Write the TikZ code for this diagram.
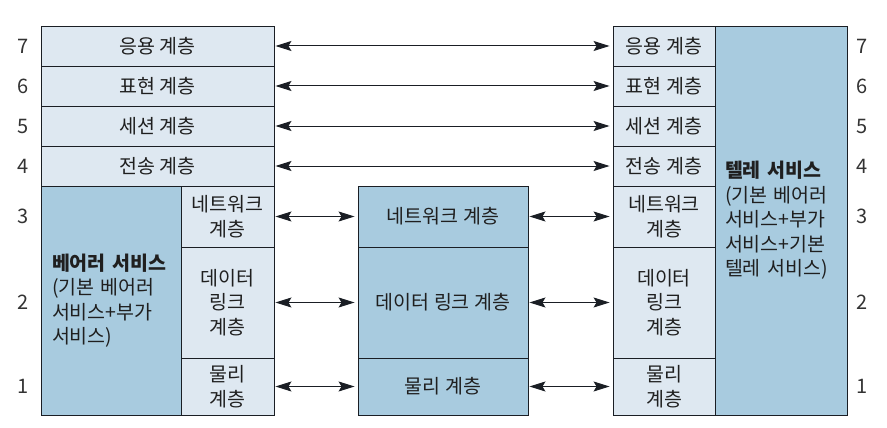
\documentclass[tikz,border=0pt]{standalone}
\usepackage{fontspec}
\setmainfont{Noto Sans CJK KR}
\usetikzlibrary{arrows.meta}
\definecolor{layerpale}{RGB}{222,232,241}
\definecolor{layerblue}{RGB}{168,203,223}
\definecolor{edgeink}{RGB}{26,30,36}
\begin{document}
\begin{tikzpicture}[x=1pt, y=-1pt]
  \tikzstyle{cell}=[draw=edgeink, line width=0.9pt, inner sep=0pt, anchor=center,
    font=\fontsize{19.5}{24.5}\selectfont, text=black!88, align=center]
  \tikzstyle{pale}=[cell, fill=layerpale]
  \tikzstyle{servicebox}=[cell, fill=layerblue]
  \tikzstyle{layerno}=[font=\fontsize{20}{20}\selectfont, text=black!80]
  \tikzstyle{peer}=[{Stealth[length=16pt,width=10pt,inset=3pt]}-{Stealth[length=16pt,width=10pt,inset=3pt]},
    line width=1pt, draw=edgeink, fill=edgeink, shorten <=1pt, shorten >=3pt]
  \useasboundingbox (0,0) rectangle (887,428);
  \foreach \n/\name/\y in {7/응용 계층/46, 6/표현 계층/86, 5/세션 계층/126, 4/전송 계층/166} {
    \node[pale, minimum width=233pt, minimum height=40pt] (L\n) at (157.5, \y) {\name};
    \node[pale, minimum width=102pt, minimum height=40pt] (R\n) at (664, \y) {\name};
    \node[layerno] (lno\n) at (23, \y) {\n};
    \node[layerno] (rno\n) at (862, \y) {\n};
    \draw[peer] (L\n.east) -- (R\n.west);
  }
  \node[servicebox, minimum width=140pt, minimum height=229pt, text width=118pt,
    align=left, inner xsep=11pt] (bearer) at (111, 300.5)
    {\textbf{베어러 서비스}\\(기본 베어러\\서비스+부가\\서비스)};
  \node[pale, minimum width=93pt, minimum height=61pt] (L3) at (227.5, 216.5) {네트워크\\계층};
  \node[pale, minimum width=93pt, minimum height=111pt] (L2) at (227.5, 302.5) {데이터\\링크\\계층};
  \node[pale, minimum width=93pt, minimum height=57pt] (L1) at (227.5, 386.5) {물리\\계층};
  \node[servicebox, minimum width=170pt, minimum height=61pt] (M3) at (443, 216.5) {네트워크 계층};
  \node[servicebox, minimum width=170pt, minimum height=111pt] (M2) at (443, 302.5) {데이터 링크 계층};
  \node[servicebox, minimum width=170pt, minimum height=57pt] (M1) at (443, 386.5) {물리 계층};
  \node[pale, minimum width=102pt, minimum height=61pt] (R3) at (664, 216.5) {네트워크\\계층};
  \node[pale, minimum width=102pt, minimum height=111pt] (R2) at (664, 302.5) {데이터\\링크\\계층};
  \node[pale, minimum width=102pt, minimum height=57pt] (R1) at (664, 386.5) {물리\\계층};
  \node[servicebox, minimum width=132pt, minimum height=389pt, text width=112pt,
    align=left, inner xsep=10pt] (tele) at (781, 220.5)
    {\textbf{텔레 서비스}\\(기본 베어러\\서비스+부가\\서비스+기본\\텔레 서비스)};
  \foreach \n/\y in {3/216.5, 2/302.5, 1/386.5} {
    \node[layerno] (lno\n) at (23, \y) {\n};
    \node[layerno] (rno\n) at (862, \y) {\n};
    \draw[peer] (L\n.east) -- (M\n.west);
    \draw[peer] (M\n.east) -- (R\n.west);
  }
\end{tikzpicture}
\end{document}
